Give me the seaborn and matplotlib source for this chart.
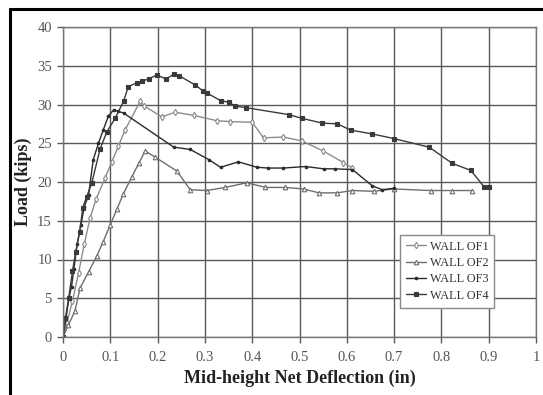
import matplotlib
matplotlib.use("Agg")
import matplotlib.pyplot as plt
import seaborn as sns
import pandas as pd
from matplotlib.lines import Line2D

# ---- data ----
of1_x = [0, 0.008, 0.02, 0.033, 0.045, 0.057, 0.07, 0.089, 0.103, 0.117, 0.131, 0.163, 0.172,
         0.209, 0.237, 0.276, 0.326, 0.354, 0.40, 0.424, 0.466, 0.505, 0.55, 0.593, 0.612]
of1_y = [0, 1.8, 4.6, 8.3, 12.0, 15.3, 17.8, 20.5, 22.6, 24.6, 26.7, 30.4, 29.8,
         28.4, 29.0, 28.6, 27.9, 27.8, 27.7, 25.7, 25.8, 25.3, 24.0, 22.5, 21.8]

of2_x = [0, 0.011, 0.025, 0.036, 0.054, 0.071, 0.085, 0.10, 0.114, 0.127, 0.145, 0.16, 0.174,
         0.195, 0.241, 0.269, 0.304, 0.343, 0.389, 0.428, 0.47, 0.509, 0.541, 0.58, 0.611,
         0.657, 0.70, 0.777, 0.823, 0.864]
of2_y = [0, 1.5, 3.3, 6.3, 8.4, 10.4, 12.3, 14.5, 16.5, 18.4, 20.6, 22.4, 24.0,
         23.2, 21.4, 19.0, 18.9, 19.3, 19.9, 19.3, 19.3, 19.1, 18.6, 18.6, 18.9,
         18.8, 19.1, 18.9, 18.9, 18.9]

of3_x = [0, 0.006, 0.013, 0.018, 0.023, 0.03, 0.038, 0.045, 0.054, 0.064, 0.075, 0.085, 0.096,
         0.107, 0.117, 0.128, 0.234, 0.269, 0.308, 0.333, 0.371, 0.41, 0.434, 0.466, 0.513,
         0.551, 0.576, 0.612, 0.654, 0.675, 0.70]
of3_y = [0, 2.3, 5.2, 6.5, 8.8, 12.0, 14.5, 16.8, 18.3, 22.9, 25.0, 26.7, 28.5,
         29.3, 29.1, 28.9, 24.5, 24.2, 22.9, 21.9, 22.6, 21.9, 21.8, 21.8, 22.0,
         21.7, 21.7, 21.6, 19.5, 19.0, 19.2]

of4_x = [0, 0.005, 0.012, 0.02, 0.027, 0.035, 0.042, 0.05, 0.061, 0.078, 0.093, 0.11, 0.128,
         0.138, 0.156, 0.167, 0.181, 0.198, 0.218, 0.234, 0.246, 0.28, 0.297, 0.304, 0.333,
         0.35, 0.364, 0.386, 0.477, 0.506, 0.548, 0.58, 0.608, 0.654, 0.70, 0.774, 0.823,
         0.862, 0.89, 0.90]
of4_y = [0, 2.4, 5.0, 8.5, 11.0, 13.5, 16.7, 18.1, 19.9, 24.2, 26.5, 28.2, 30.4,
         32.3, 32.8, 33.0, 33.3, 33.8, 33.3, 33.9, 33.7, 32.5, 31.7, 31.5, 30.5,
         30.3, 29.8, 29.6, 28.7, 28.2, 27.6, 27.5, 26.7, 26.2, 25.6, 24.5, 22.4,
         21.5, 19.4, 19.4]

series_names = ["WALL OF1", "WALL OF2", "WALL OF3", "WALL OF4"]
x_ticks = [0, 0.1, 0.2, 0.3, 0.4, 0.5, 0.6, 0.7, 0.8, 0.9, 1]
x_tick_labels = ["0", "0.1", "0.2", "0.3", "0.4", "0.5", "0.6", "0.7", "0.8", "0.9", "1"]
y_ticks = [0, 5, 10, 15, 20, 25, 30, 35, 40]

# ---- styling ----
sns.set_style("whitegrid")
plt.rcParams["font.family"] = ["Liberation Serif", "DejaVu Serif"]

styles = {
    "WALL OF1": dict(color="#8c8c8c", marker="d", mfc="white", mec="#8c8c8c", ms=3.3),
    "WALL OF2": dict(color="#6e6e6e", marker="^", mfc="white", mec="#6e6e6e", ms=3.3),
    "WALL OF3": dict(color="#2a2a2a", marker="o", mfc="#2a2a2a", mec="#2a2a2a", ms=1.8),
    "WALL OF4": dict(color="#3a3a3a", marker="s", mfc="#3a3a3a", mec="#3a3a3a", ms=2.4),
}

frames = []
for name, xs, ys in zip(series_names, [of1_x, of2_x, of3_x, of4_x], [of1_y, of2_y, of3_y, of4_y]):
    frames.append(pd.DataFrame({"x": xs, "y": ys, "wall": name}))
df = pd.concat(frames, ignore_index=True)

fig = plt.figure(figsize=(5.43, 3.95), dpi=100)
ax = fig.add_axes([63 / 543, 1 - 337 / 395, 473 / 543, 310 / 395])

for name in series_names:
    st = styles[name]
    sub = df[df["wall"] == name]
    sns.lineplot(data=sub, x="x", y="y", ax=ax, sort=False, estimator=None,
                 color=st["color"], linewidth=1.0, marker=st["marker"],
                 markerfacecolor=st["mfc"], markeredgecolor=st["mec"],
                 markeredgewidth=0.8, markersize=st["ms"], legend=False)

ax.set_xlim(0, 1)
ax.set_ylim(0, 40)
ax.set_xticks(x_ticks)
ax.set_xticklabels(x_tick_labels)
ax.set_yticks(y_ticks)
ax.grid(True, color="#5a5a5a", linewidth=1.0)
ax.set_axisbelow(True)
for sp in ax.spines.values():
    sp.set_visible(True)
    sp.set_color("#777777")
    sp.set_linewidth(1.0)
ax.tick_params(axis="both", which="both", length=4, width=1.0, color="#5a5a5a",
               labelsize=10.5, labelcolor="#555555", pad=5, direction="out")
ax.tick_params(axis="x", bottom=True, pad=6)
ax.tick_params(axis="y", left=True, pad=4)

ax.set_xlabel("Mid-height Net Deflection (in)", fontsize=13, fontweight="bold",
              color="#222222", labelpad=4)
ax.set_ylabel("Load (kips)", fontsize=13, fontweight="bold", color="#222222")
ax.yaxis.set_label_coords(-0.066, 0.5)

handles = []
for name in series_names:
    st = styles[name]
    handles.append(Line2D([], [], color=st["color"], linewidth=1.0, marker=st["marker"],
                          markerfacecolor=st["mfc"], markeredgecolor=st["mec"],
                          markeredgewidth=0.8, markersize=st["ms"]))
leg = ax.legend(handles, series_names, loc="lower left", bbox_to_anchor=(0.70, 0.075),
                fontsize=8.8, frameon=True, fancybox=False, framealpha=1,
                edgecolor="#888888", handlelength=1.6, handletextpad=0.3,
                borderpad=0.5, labelspacing=0.35)
leg.get_frame().set_linewidth(1.0)
for t in leg.get_texts():
    t.set_color("#333333")

# outer black border of the image
fig.add_artist(Line2D([10 / 543, 10 / 543], [0, 1 - 9 / 395], transform=fig.transFigure,
                      color="black", linewidth=2.2))
fig.add_artist(Line2D([10 / 543, 1], [1 - 9 / 395, 1 - 9 / 395], transform=fig.transFigure,
                      color="black", linewidth=2.2))

fig.savefig("out.png", dpi=100)
